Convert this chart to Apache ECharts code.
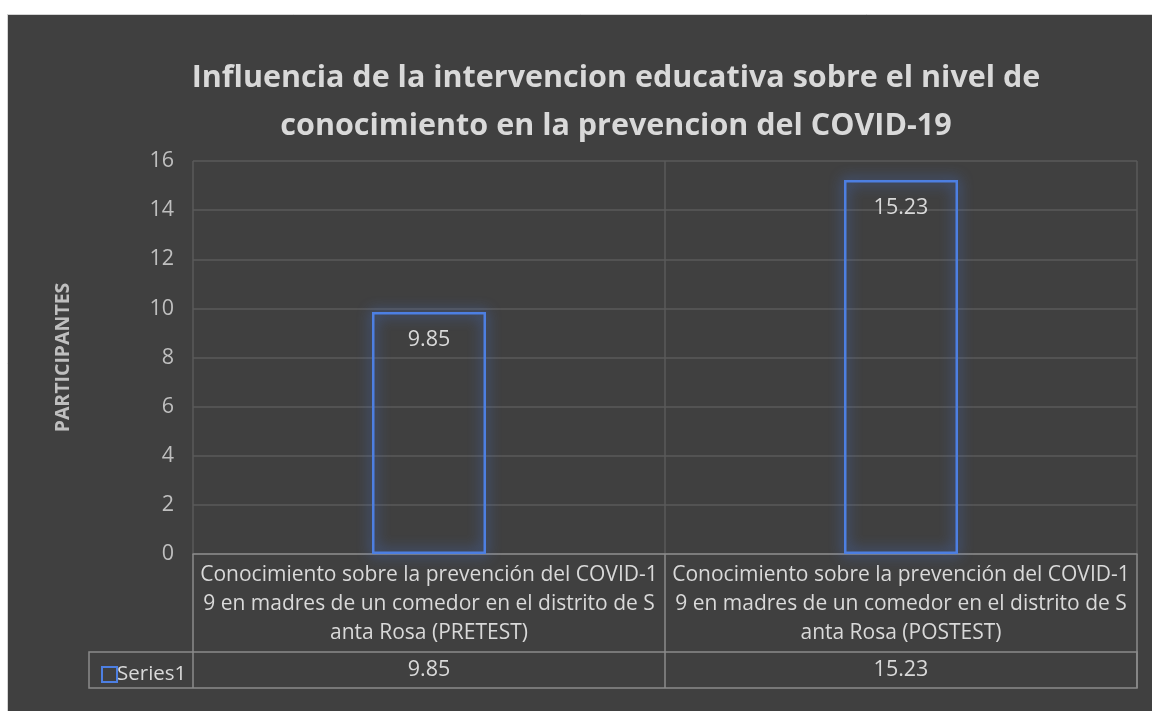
<!DOCTYPE html>
<html>
<head>
<meta charset="utf-8">
<script src="https://cdn.jsdelivr.net/npm/echarts@6/dist/echarts.min.js"></script>
<style>
  html, body { margin: 0; padding: 0; background: #ffffff; }
  #chart { width: 1152px; height: 711px; }
</style>
</head>
<body>
<div id="chart"></div>
<script>
const titleText = 'Influencia de la intervencion educativa sobre el nivel de\nconocimiento en la prevencion del COVID-19';
const yAxisName = 'PARTICIPANTES';
const categories = [
  'Conocimiento sobre la prevención del COVID-1\n9 en madres de un comedor en el distrito de S\nanta Rosa (PRETEST)',
  'Conocimiento sobre la prevención del COVID-1\n9 en madres de un comedor en el distrito de S\nanta Rosa (POSTEST)'
];
const seriesName = 'Series1';
const seriesValues = [9.85, 15.23];
const yTicks = { min: 0, max: 16, interval: 2 };

const FONT = 'Open Sans';
const TXT = '#d9d9d9';
const TICK = '#bfbfbf';
const TABLE = '#8a8a8a';
const GRID = '#5a5a5a';
const BLUE = '#4d7fe2';

const chart = echarts.init(document.getElementById('chart'), null, { renderer: 'canvas' });
chart.setOption({
  backgroundColor: '#ffffff',
  animation: false,
  textStyle: { fontFamily: FONT },
  graphic: [
    { type: 'rect', z: -10, silent: true,
      shape: { x: 7.5, y: 14.5, width: 1160, height: 710 },
      style: { fill: '#404040', stroke: '#d4d4d4', lineWidth: 1 } },
    { type: 'rect', z: 5, silent: true,
      shape: { x: 89, y: 652, width: 1048, height: 36 },
      style: { fill: 'none', stroke: TABLE, lineWidth: 1.5 } }
  ],
  title: {
    text: titleText,
    left: 611,
    textAlign: 'center',
    top: 49,
    textStyle: { color: TXT, fontFamily: FONT, fontWeight: 'bold', fontSize: 30.5, lineHeight: 48 }
  },
  legend: {
    show: true,
    left: 96,
    top: 659,
    icon: 'rect',
    itemWidth: 15,
    itemHeight: 15,
    itemGap: 2,
    data: [seriesName],
    itemStyle: { color: 'rgba(0,0,0,0)', borderColor: BLUE, borderWidth: 2 },
    textStyle: { color: TXT, fontFamily: FONT, fontSize: 20.5, padding: [0, 0, 0, -5] }
  },
  grid: { left: 193, right: 15, top: 161, bottom: 157, containLabel: false },
  xAxis: [
    {
      type: 'category',
      data: categories,
      position: 'bottom',
      boundaryGap: true,
      axisLine: { show: true, lineStyle: { color: TABLE, width: 1.5 } },
      axisTick: { show: true, length: 134, lineStyle: { color: TABLE, width: 1.5 } },
      splitLine: { show: true, lineStyle: { color: GRID, width: 1.5 } },
      axisLabel: { color: TXT, fontFamily: FONT, fontSize: 21, lineHeight: 29, margin: 7, interval: 0 }
    },
    {
      type: 'category',
      data: categories,
      position: 'bottom',
      offset: 98,
      axisLine: { show: false },
      axisTick: { show: false },
      splitLine: { show: false },
      axisLabel: {
        color: TXT, fontFamily: FONT, fontSize: 21.5, margin: 7, interval: 0,
        formatter: (v, i) => String(seriesValues[i])
      }
    }
  ],
  yAxis: {
    type: 'value',
    min: yTicks.min,
    max: yTicks.max,
    interval: yTicks.interval,
    name: yAxisName,
    nameLocation: 'middle',
    nameRotate: 90,
    nameGap: 120,
    nameTextStyle: { color: TICK, fontFamily: FONT, fontWeight: 'bold', fontSize: 19.5 },
    axisLine: { show: false },
    axisTick: { show: false },
    splitLine: { show: true, lineStyle: { color: GRID, width: 1.5 } },
    axisLabel: { color: TICK, fontFamily: FONT, fontSize: 21.5, margin: 19 }
  },
  series: [{
    name: seriesName,
    type: 'bar',
    xAxisIndex: 0,
    data: seriesValues,
    barWidth: 114,
    itemStyle: {
      color: 'rgba(64,64,64,0)',
      borderColor: BLUE,
      borderWidth: 2.5,
      shadowColor: 'rgba(70,120,230,1)',
      shadowBlur: 14
    },
    label: {
      show: true,
      position: 'insideTop',
      distance: 17,
      color: TXT,
      fontFamily: FONT,
      fontSize: 21.5
    }
  }]
});
</script>
</body>
</html>
